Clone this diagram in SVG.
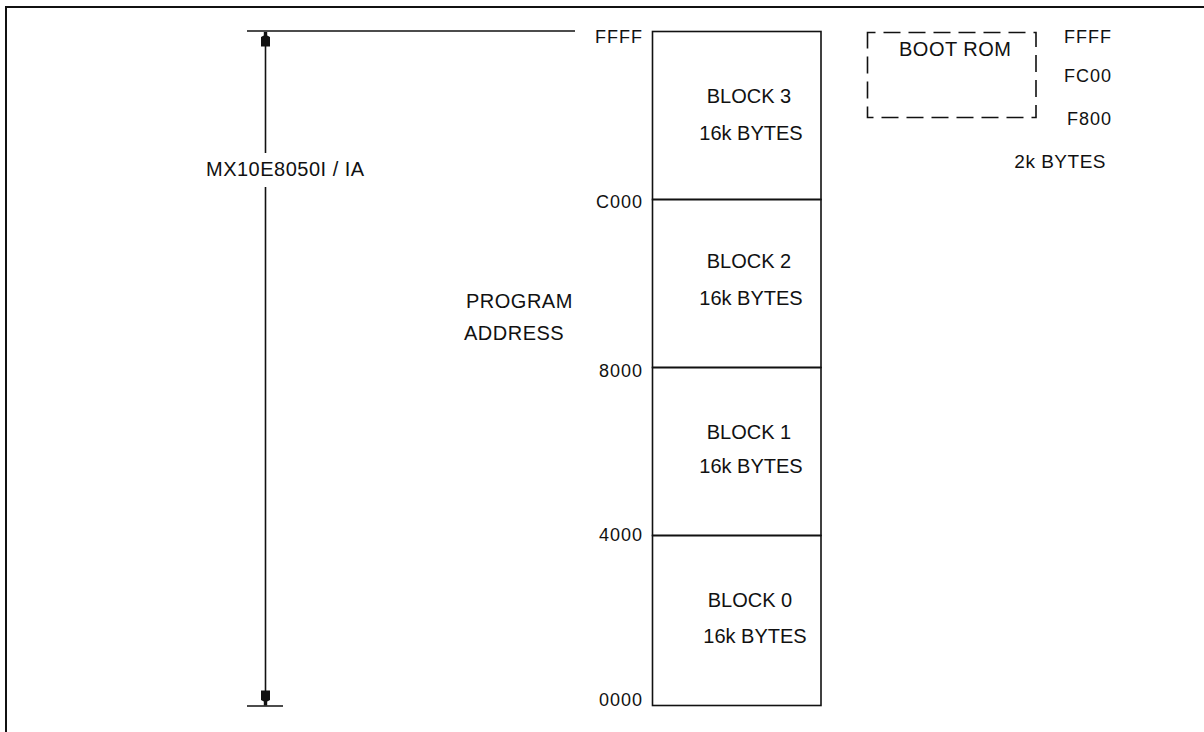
<svg xmlns="http://www.w3.org/2000/svg" width="1204" height="732" viewBox="0 0 1204 732">
<defs>
<style>
text{font-family:"Liberation Sans",Arial,sans-serif;fill:#111;}
.lbl{font-size:20px;letter-spacing:0.5px;}
.addr{font-size:18px;letter-spacing:1px;text-anchor:end;}
.blk{font-size:20px;text-anchor:middle;}
.ln{stroke:#111;stroke-width:1.6;fill:none;}
</style>
<marker id="ah" viewBox="0 0 16 12" refX="15.5" refY="6" markerWidth="16" markerHeight="12" markerUnits="userSpaceOnUse" orient="auto-start-reverse">
<path d="M16,4.3 L16,7.7 L12,7.7 L10.5,10.5 L1,10.5 L1,1.5 L10.5,1.5 L12,4.3 Z" fill="#111"/>
</marker>
</defs>
<rect x="6" y="7" width="1300" height="800" fill="#fff" stroke="#111" stroke-width="2"/>
<g id="connectors">
<line class="ln" x1="247" y1="31" x2="575" y2="31"/>
<line class="ln" x1="247" y1="706" x2="283" y2="706"/>
<line class="ln" x1="265.5" y1="32" x2="265.5" y2="153" marker-start="url(#ah)"/>
<line class="ln" x1="265.5" y1="187" x2="265.5" y2="705" marker-end="url(#ah)"/>
</g>
<g id="dimension-label">
<text class="lbl" x="206" y="176">MX10E8050I / IA</text>
</g>
<g id="program-address">
<text class="lbl" x="466" y="308">PROGRAM</text>
<text class="lbl" x="464" y="340">ADDRESS</text>
</g>
<g id="addresses">
<text class="addr" x="643" y="43">FFFF</text>
<text class="addr" x="643" y="208">C000</text>
<text class="addr" x="643" y="377">8000</text>
<text class="addr" x="643" y="541">4000</text>
<text class="addr" x="643" y="706">0000</text>
</g>
<g id="block3">
<rect class="ln" x="652.5" y="31.5" width="168.5" height="168"/>
<text class="blk" x="749" y="103">BLOCK 3</text>
<text class="blk" x="751" y="140">16k BYTES</text>
</g>
<g id="block2">
<rect class="ln" x="652.5" y="199.5" width="168.5" height="168"/>
<text class="blk" x="749" y="268">BLOCK 2</text>
<text class="blk" x="751" y="305">16k BYTES</text>
</g>
<g id="block1">
<rect class="ln" x="652.5" y="367.5" width="168.5" height="168"/>
<text class="blk" x="749" y="439">BLOCK 1</text>
<text class="blk" x="751" y="473">16k BYTES</text>
</g>
<g id="block0">
<rect class="ln" x="652.5" y="535.5" width="168.5" height="170"/>
<text class="blk" x="750" y="607">BLOCK 0</text>
<text class="blk" x="755" y="643">16k BYTES</text>
</g>
<g id="boot-rom">
<rect x="867.5" y="32.5" width="168.5" height="85" fill="none" stroke="#111" stroke-width="1.6" stroke-dasharray="17 8" stroke-dashoffset="9"/>
<text class="lbl" x="899" y="56">BOOT ROM</text>
<text class="addr" x="1112" y="43">FFFF</text>
<text class="addr" x="1112" y="82">FC00</text>
<text class="addr" x="1112" y="125">F800</text>
<text class="lbl" x="1106" y="168" text-anchor="end" style="font-size:19px">2k BYTES</text>
</g>
</svg>
